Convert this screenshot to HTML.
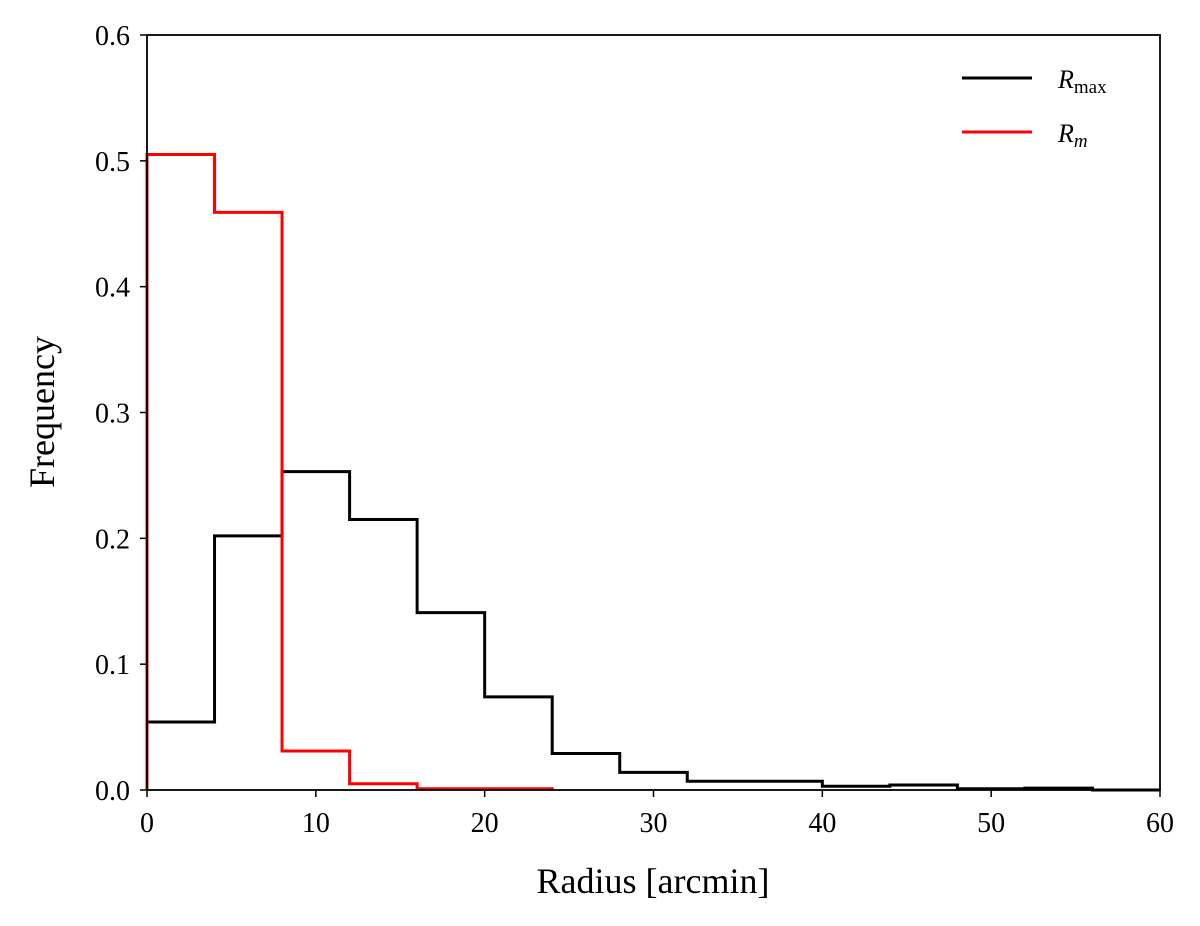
<!DOCTYPE html>
<html><head><meta charset="utf-8"><style>
html,body{margin:0;padding:0;background:#fff;}
svg{display:block;font-family:"Liberation Serif",serif;}
</style></head><body>
<svg id="chart" width="1200" height="926" viewBox="0 0 1200 926">
<g id="marks"></g>
<rect x="147" y="35" width="1013" height="755" fill="none" stroke="#000" stroke-width="1.8"/>
<g id="xticks"></g><g id="yticks"></g>
<text x="653" y="893" font-size="36" text-anchor="middle">Radius [arcmin]</text>
<text transform="translate(54,412) rotate(-90)" font-size="36" text-anchor="middle">Frequency</text>
<g>
<line x1="962" y1="78" x2="1032" y2="78" stroke="#000" stroke-width="3"/>
<text x="1058" y="88" font-size="26" font-style="italic">R<tspan font-style="normal" font-size="19" dy="5">max</tspan></text>
<line x1="962" y1="132" x2="1032" y2="132" stroke="#f00" stroke-width="3"/>
<text x="1058" y="142" font-size="26" font-style="italic">R<tspan font-size="19" dy="5">m</tspan></text>
</g>
</svg>
<script>
const binEdges=[0,4,8,12,16,20,24,28,32,36,40,44,48,52,56,60];
const rmaxValues=[0.054,0.202,0.253,0.215,0.141,0.074,0.029,0.014,0.007,0.007,0.003,0.004,0.001,0.0015,0.0];
const rmEdges=[0,4,8,12,16,20,24];
const rmValues=[0.505,0.459,0.031,0.005,0.001,0.001];
const xTicks=[0,10,20,30,40,50,60];
const yTicks=[0.0,0.1,0.2,0.3,0.4,0.5,0.6];
const X=v=>147+v*(1013/60);
const Y=v=>790-v*(755/0.6);
const NS="http://www.w3.org/2000/svg";
function step(edges,vals,color,name){
  let d="M"+X(edges[0])+","+Y(0);
  vals.forEach((v,i)=>{d+=" L"+X(edges[i])+","+Y(v)+" L"+X(edges[i+1])+","+Y(v);});
  d+=" L"+X(edges[edges.length-1])+","+Y(0);
  const p=document.createElementNS(NS,"path");
  p.setAttribute("d",d);p.setAttribute("fill","none");p.setAttribute("stroke",color);p.setAttribute("stroke-width","3");
  
  
  document.getElementById("marks").appendChild(p);
}
step(binEdges,rmaxValues,"#000","rmax-histogram");
step(rmEdges,rmValues,"#f00","rm-histogram");
const xg=document.getElementById("xticks");
xTicks.forEach(t=>{
  const l=document.createElementNS(NS,"line");
  l.setAttribute("x1",X(t));l.setAttribute("x2",X(t));l.setAttribute("y1",790);l.setAttribute("y2",797);l.setAttribute("stroke","#000");l.setAttribute("stroke-width","1.5");
  
  
  xg.appendChild(l);
  const tx=document.createElementNS(NS,"text");
  tx.setAttribute("x",X(t));tx.setAttribute("y",832);tx.setAttribute("font-size","28");tx.setAttribute("text-anchor","middle");
  tx.textContent=t;
  
  
  xg.appendChild(tx);
});
const yg=document.getElementById("yticks");
yTicks.forEach(t=>{
  const l=document.createElementNS(NS,"line");
  l.setAttribute("x1",140);l.setAttribute("x2",147);l.setAttribute("y1",Y(t));l.setAttribute("y2",Y(t));l.setAttribute("stroke","#000");l.setAttribute("stroke-width","1.5");
  
  
  yg.appendChild(l);
  const tx=document.createElementNS(NS,"text");
  tx.setAttribute("x",130);tx.setAttribute("y",Y(t)+10);tx.setAttribute("font-size","28");tx.setAttribute("text-anchor","end");
  tx.textContent=t.toFixed(1);
  
  
  yg.appendChild(tx);
});
</script>
</body></html>
